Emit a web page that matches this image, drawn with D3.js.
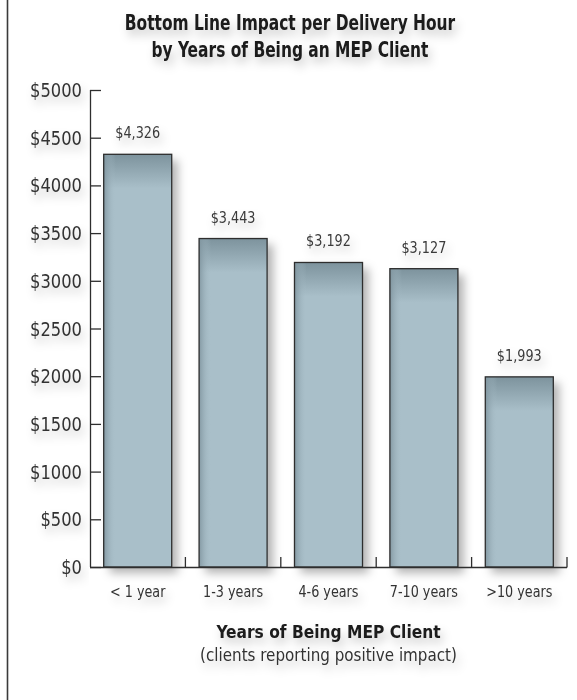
<!DOCTYPE html>
<html>
<head>
<meta charset="utf-8">
<script src="https://cdn.jsdelivr.net/npm/d3@7"></script>
<style>
  html, body { margin: 0; padding: 0; background: #fff; }
  svg { display: block; }
</style>
</head>
<body>
<div id="chart"></div>
<script>
const categories = ["< 1 year", "1-3 years", "4-6 years", "7-10 years", ">10 years"];
const values = [4326, 3443, 3192, 3127, 1993];
const yTicks = [0, 500, 1000, 1500, 2000, 2500, 3000, 3500, 4000, 4500, 5000];
const titleLines = ["Bottom Line Impact per Delivery Hour", "by Years of Being an MEP Client"];
const xTitle = "Years of Being MEP Client";
const xSubtitle = "(clients reporting positive impact)";

const widthValue = 577;
const heightValue = 700;
const font = "'Liberation Sans Narrow', 'DejaVu Sans Condensed', 'Roboto', sans-serif";
const margin = { top: 90, left: 90, bottom: 133, right: 10 };

// the reference uses a narrow face, squeeze the condensed one a bit more
function squeeze(sel, factor) {
  sel.each(function () {
    const len = this.getComputedTextLength();
    d3.select(this)
      .attr("textLength", len * factor)
      .attr("lengthAdjust", "spacingAndGlyphs");
  });
}

const svg = d3.select("#chart").append("svg")
  .attr("width", widthValue)
  .attr("height", heightValue);

const defs = svg.append("defs");

const shadow = defs.append("filter").attr("id", "shadow")
  .attr("x", "-20%").attr("y", "-50%").attr("width", "150%").attr("height", "250%");
shadow.append("feDropShadow")
  .attr("dx", 3).attr("dy", 6).attr("stdDeviation", 5)
  .attr("flood-color", "#000").attr("flood-opacity", 0.22);

const barShadow = defs.append("filter").attr("id", "barShadow")
  .attr("x", "-20%").attr("y", "-10%").attr("width", "160%").attr("height", "130%");
barShadow.append("feDropShadow")
  .attr("dx", 6).attr("dy", 6).attr("stdDeviation", 5)
  .attr("flood-color", "#000").attr("flood-opacity", 0.3);

const topGrad = defs.append("linearGradient").attr("id", "topGrad")
  .attr("x1", 0).attr("x2", 0).attr("y1", 0).attr("y2", 1);
topGrad.append("stop").attr("offset", 0).attr("stop-color", "#7d939d");
topGrad.append("stop").attr("offset", 1).attr("stop-color", "#a9bfc9");

const leftGrad = defs.append("linearGradient").attr("id", "leftGrad")
  .attr("x1", 0).attr("x2", 1).attr("y1", 0).attr("y2", 0);
leftGrad.append("stop").attr("offset", 0).attr("stop-color", "#7f949e").attr("stop-opacity", 0.9);
leftGrad.append("stop").attr("offset", 1).attr("stop-color", "#a9bfc9").attr("stop-opacity", 0);

// left frame line
svg.append("line")
  .attr("x1", 7.5).attr("x2", 7.5).attr("y1", 0).attr("y2", heightValue)
  .attr("stroke", "#3a3a3a").attr("stroke-width", 1.6);

const width = widthValue - margin.left - margin.right;
const height = heightValue - margin.top - margin.bottom;

const x = d3.scaleBand()
  .domain(categories)
  .range([margin.left, margin.left + width])
  .paddingInner(0.287)
  .paddingOuter(0.1435);

const y = d3.scaleLinear()
  .domain([0, 5000])
  .range([margin.top + height, margin.top]);

// title
const title = svg.append("text")
  .attr("text-anchor", "middle")
  .attr("font-family", font)
  .attr("font-weight", "bold")
  .attr("font-size", 22)
  .attr("fill", "#1a1a1a")
  .attr("filter", "url(#shadow)");
titleLines.forEach((t, i) => {
  title.append("tspan").attr("x", 290).attr("y", 30 + i * 27).text(t);
});
squeeze(title.selectAll("tspan"), 0.78);

// bars
const g = svg.append("g");
const bars = g.selectAll("g.bar").data(values).enter().append("g").attr("class", "bar");

bars.append("rect")
  .attr("x", (d, i) => x(categories[i]))
  .attr("y", d => y(d))
  .attr("width", x.bandwidth())
  .attr("height", d => y(0) - y(d))
  .attr("fill", "#a9bfc9")
  .attr("filter", "url(#barShadow)");

bars.append("rect")
  .attr("x", (d, i) => x(categories[i]))
  .attr("y", d => y(d))
  .attr("width", x.bandwidth())
  .attr("height", 34)
  .attr("fill", "url(#topGrad)");

bars.append("rect")
  .attr("x", (d, i) => x(categories[i]))
  .attr("y", d => y(d))
  .attr("width", 12)
  .attr("height", d => y(0) - y(d))
  .attr("fill", "url(#leftGrad)");

bars.append("rect")
  .attr("x", (d, i) => x(categories[i]))
  .attr("y", d => y(d))
  .attr("width", x.bandwidth())
  .attr("height", d => y(0) - y(d))
  .attr("fill", "none")
  .attr("stroke", "#2e2e2e")
  .attr("stroke-width", 1.3);

// value labels
const valLabels = g.selectAll("text.val").data(values).enter().append("text")
  .attr("class", "val")
  .attr("x", (d, i) => x(categories[i]) + x.bandwidth() / 2)
  .attr("y", d => y(d) - 16)
  .attr("text-anchor", "middle")
  .attr("font-family", font)
  .attr("font-size", 15.5)
  .attr("fill", "#3a3a3a")
  .attr("filter", "url(#shadow)")
  .text(d => "$" + d3.format(",")(d));
squeeze(valLabels, 0.92);

// y axis
const yAxis = svg.append("g")
  .attr("transform", `translate(${margin.left},0)`)
  .call(d3.axisRight(y).tickValues(yTicks).tickSize(11).tickFormat(""));
yAxis.select(".domain").attr("stroke", "#2e2e2e").attr("stroke-width", 1.3)
  .attr("d", `M0.5,${y(5000)}V${y(0)}`);
yAxis.selectAll(".tick line").attr("stroke", "#2e2e2e").attr("stroke-width", 1.3);

const yLabels = svg.selectAll("text.ytick").data(yTicks).enter().append("text")
  .attr("class", "ytick")
  .attr("x", 82)
  .attr("y", d => y(d) + 7)
  .attr("text-anchor", "end")
  .attr("font-family", font)
  .attr("font-size", 19.5)
  .attr("fill", "#333")
  .attr("filter", "url(#shadow)")
  .text(d => "$" + d);
squeeze(yLabels, 0.93);

// x axis with small separator ticks
const bounds = d3.range(1, categories.length + 1).map(i => margin.left + (width / categories.length) * i);
const xAxis = svg.append("g").attr("transform", `translate(0,${y(0)})`);
xAxis.append("line")
  .attr("x1", margin.left).attr("x2", margin.left + width)
  .attr("y1", 0.5).attr("y2", 0.5)
  .attr("stroke", "#2e2e2e").attr("stroke-width", 1.3);
xAxis.selectAll("line.sep").data(bounds).enter().append("line")
  .attr("class", "sep")
  .attr("x1", d => d).attr("x2", d => d)
  .attr("y1", 0.5).attr("y2", -10)
  .attr("stroke", "#2e2e2e").attr("stroke-width", 1.3);

const xLabels = svg.selectAll("text.xlab").data(categories).enter().append("text")
  .attr("class", "xlab")
  .attr("x", d => x(d) + x.bandwidth() / 2)
  .attr("y", y(0) + 30)
  .attr("text-anchor", "middle")
  .attr("font-family", font)
  .attr("font-size", 16.5)
  .attr("fill", "#333")
  .attr("filter", "url(#shadow)")
  .text(d => d);
squeeze(xLabels, 0.86);

const xt = svg.append("text")
  .attr("x", margin.left + width / 2)
  .attr("y", 638)
  .attr("text-anchor", "middle")
  .attr("font-family", font)
  .attr("font-weight", "bold")
  .attr("font-size", 18.5)
  .attr("fill", "#1a1a1a")
  .attr("filter", "url(#shadow)")
  .text(xTitle);
squeeze(xt, 0.93);

const st = svg.append("text")
  .attr("x", margin.left + width / 2)
  .attr("y", 661)
  .attr("text-anchor", "middle")
  .attr("font-family", font)
  .attr("font-size", 17)
  .attr("fill", "#333")
  .attr("filter", "url(#shadow)")
  .text(xSubtitle);
squeeze(st, 0.99);
</script>
</body>
</html>
